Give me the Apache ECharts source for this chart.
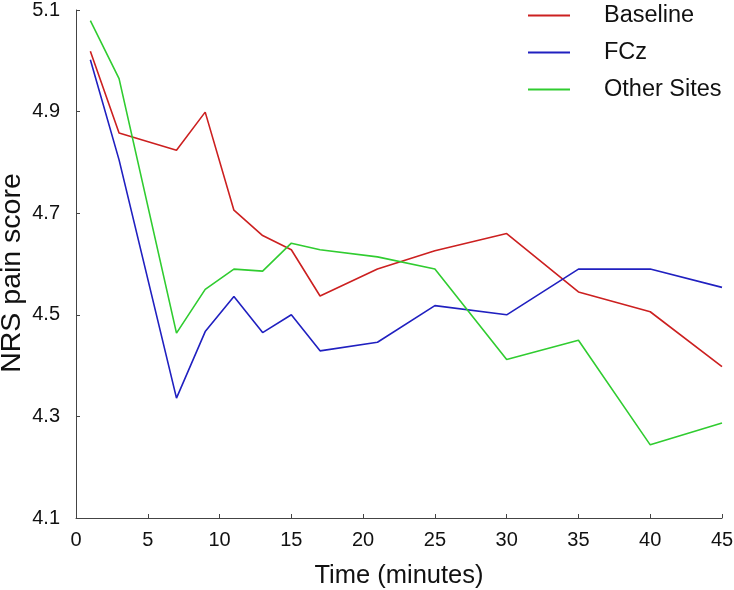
<!DOCTYPE html>
<html>
<head>
<meta charset="utf-8">
<script src="https://cdn.jsdelivr.net/npm/echarts@6/dist/echarts.min.js"></script>
<style>html,body{margin:0;padding:0;background:#fff;}#c{width:734px;height:590px;}</style>
</head>
<body>
<div id="c"></div>
<script>
const times = [1, 3, 7, 9, 11, 13, 15, 17, 21, 25, 30, 35, 40, 45];
const baseline = [5.019, 4.858, 4.824, 4.899, 4.706, 4.656, 4.628, 4.537, 4.590, 4.626, 4.660, 4.545, 4.506, 4.398];
const fcz = [5.002, 4.805, 4.336, 4.467, 4.536, 4.465, 4.500, 4.429, 4.446, 4.518, 4.500, 4.590, 4.590, 4.554];
const otherSites = [5.079, 4.965, 4.464, 4.550, 4.590, 4.586, 4.641, 4.628, 4.614, 4.590, 4.412, 4.450, 4.244, 4.287];
const yTicks = [4.1, 4.3, 4.5, 4.7, 4.9, 5.1];
const xTicks = [0, 5, 10, 15, 20, 25, 30, 35, 40, 45];
const seriesNames = ['Baseline', 'FCz', 'Other Sites'];

const FONT = '"Liberation Sans", Arial, sans-serif';
const pair = arr => times.map((t, i) => [t, arr[i]]);
const colors = ['#cc2020', '#2020c0', '#30cc30'];

const chart = echarts.init(document.getElementById('c'), null, {renderer: 'canvas'});
chart.setOption({
  animation: false,
  backgroundColor: '#fff',
  grid: {left: 76, right: 12, top: 10, bottom: 72, containLabel: false, outerBoundsMode: 'none'},
  legend: {
    left: 528, top: 3.5, orient: 'vertical', padding: 0,
    icon: 'rect', itemWidth: 42, itemHeight: 2, itemGap: 13,
    data: seriesNames,
    textStyle: {fontFamily: FONT, fontSize: 23.5, color: '#111', lineHeight: 23, padding: [0, 0, 0, 29]}
  },
  xAxis: {
    type: 'value', min: 0, max: 45, interval: 5,
    axisLabel: {customValues: xTicks, fontFamily: FONT, fontSize: 20, color: '#111', margin: 12},
    axisTick: {customValues: xTicks, inside: true, length: 4, lineStyle: {color: '#444'}},
    axisLine: {lineStyle: {color: '#444', width: 1}},
    splitLine: {show: false},
    name: 'Time (minutes)', nameLocation: 'middle', nameGap: 45, nameMoveOverlap: false,
    nameTextStyle: {fontFamily: FONT, fontSize: 25.5, color: '#111'}
  },
  yAxis: {
    type: 'value', min: 4.1, max: 5.1,
    axisLabel: {customValues: yTicks, fontFamily: FONT, fontSize: 20, color: '#111', margin: 16,
      formatter: v => v.toFixed(1)},
    axisTick: {customValues: yTicks, inside: true, length: 4, lineStyle: {color: '#444'}},
    axisLine: {show: true, lineStyle: {color: '#444', width: 1}},
    splitLine: {show: false},
    name: 'NRS pain score', nameLocation: 'middle', nameGap: 49, nameMoveOverlap: false,
    nameTextStyle: {fontFamily: FONT, fontSize: 28.5, color: '#111', padding: [0, 18, 0, 0]}
  },
  series: [baseline, fcz, otherSites].map((d, i) => ({
    name: seriesNames[i], type: 'line', data: pair(d), showSymbol: false, symbol: 'none',
    color: colors[i], lineStyle: {width: 1.6, color: colors[i]}
  }))
});
</script>
</body>
</html>
